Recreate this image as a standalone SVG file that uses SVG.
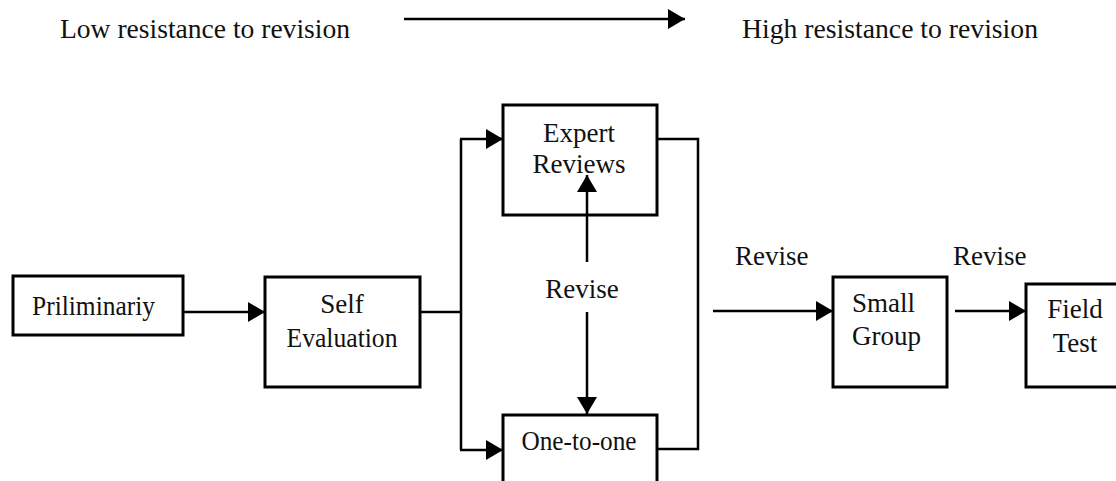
<svg xmlns="http://www.w3.org/2000/svg" width="1116" height="481" viewBox="0 0 1116 481">
  <style>
    .box { fill: #fff; stroke: #000; stroke-width: 3; }
    .wire { fill: none; stroke: #000; stroke-width: 2.5; }
    .lbl { font-family: "Liberation Serif", "Times New Roman", serif; font-size: 27px; fill: #111; }
    .mid { text-anchor: middle; }
  </style>
  <defs>
    <marker id="head" markerUnits="userSpaceOnUse" markerWidth="18" markerHeight="20" refX="17" refY="10" orient="auto">
      <path d="M0,0 L17,10 L0,20 Z" fill="#000"/>
    </marker>
  </defs>
  <rect width="1116" height="481" fill="#fff"/>

  <!-- scale heading -->
  <g id="scale">
    <text class="lbl" x="60" y="38" textLength="290" lengthAdjust="spacingAndGlyphs">Low resistance to revision</text>
    <line class="wire" x1="404" y1="19" x2="685" y2="19" stroke-width="3" marker-end="url(#head)"/>
    <text class="lbl" x="742" y="38" textLength="296" lengthAdjust="spacingAndGlyphs">High resistance to revision</text>
  </g>

  <g id="priliminariy">
    <rect class="box" x="13" y="276" width="170" height="59"/>
    <text class="lbl" x="32" y="315" textLength="123" lengthAdjust="spacingAndGlyphs">Priliminariy</text>
  </g>

  <g id="self-evaluation">
    <rect class="box" x="265" y="277" width="155" height="110"/>
    <text class="lbl mid" x="342" y="313">Self</text>
    <text class="lbl mid" x="342" y="347" textLength="111" lengthAdjust="spacingAndGlyphs">Evaluation</text>
  </g>

  <g id="expert-reviews">
    <rect class="box" x="503" y="105" width="154" height="110"/>
    <text class="lbl mid" x="579" y="142">Expert</text>
    <text class="lbl mid" x="579" y="173">Reviews</text>
  </g>

  <g id="one-to-one">
    <rect class="box" x="503" y="415" width="154" height="80"/>
    <text class="lbl mid" x="579" y="450" textLength="115" lengthAdjust="spacingAndGlyphs">One-to-one</text>
  </g>

  <g id="small-group">
    <rect class="box" x="833" y="277" width="114" height="110"/>
    <text class="lbl" x="852" y="312">Small</text>
    <text class="lbl" x="852" y="345">Group</text>
  </g>

  <g id="field-test">
    <rect class="box" x="1026" y="284" width="110" height="103"/>
    <text class="lbl mid" x="1075" y="318">Field</text>
    <text class="lbl mid" x="1075" y="352">Test</text>
  </g>

  <!-- connectors, drawn over the boxes so the revise arrowhead sits on top -->
  <g id="connectors">
    <line class="wire" x1="183" y1="312" x2="265" y2="312" marker-end="url(#head)"/>
    <line class="wire" x1="420" y1="312" x2="461" y2="312"/>
    <line class="wire" x1="461" y1="139" x2="461" y2="450"/>
    <line class="wire" x1="460" y1="139" x2="503" y2="139" marker-end="url(#head)"/>
    <line class="wire" x1="460" y1="450" x2="503" y2="450" marker-end="url(#head)"/>
    <polyline class="wire" points="657,139 698,139 698,449 657,449"/>
    <line class="wire" x1="587" y1="262" x2="587" y2="175" marker-end="url(#head)"/>
    <line class="wire" x1="587" y1="312" x2="587" y2="414" marker-end="url(#head)"/>
    <line class="wire" x1="713" y1="311" x2="833" y2="311" marker-end="url(#head)"/>
    <line class="wire" x1="955" y1="311" x2="1026" y2="311" marker-end="url(#head)"/>
    <text class="lbl mid" x="582" y="298">Revise</text>
    <text class="lbl" x="735" y="265">Revise</text>
    <text class="lbl" x="953" y="265">Revise</text>
  </g>
</svg>
